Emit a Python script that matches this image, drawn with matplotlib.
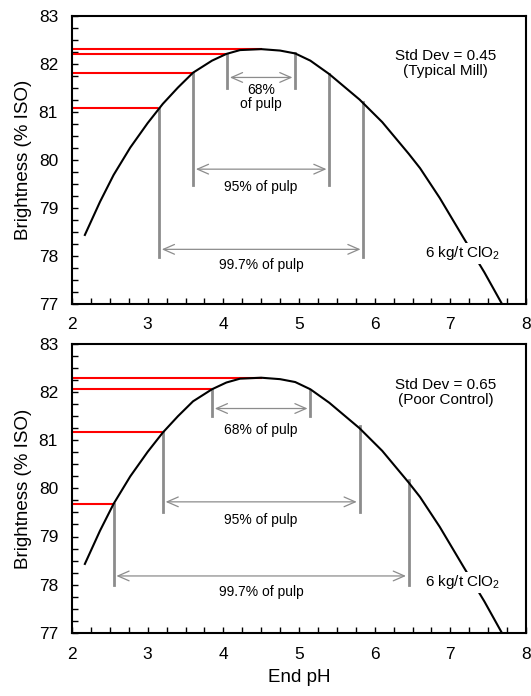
import matplotlib
matplotlib.use("Agg")
import matplotlib.pyplot as plt
from matplotlib.ticker import MultipleLocator

plt.rcParams['font.family'] = ['Liberation Sans', 'DejaVu Sans']
plt.rcParams['mathtext.fontset'] = 'custom'
plt.rcParams['mathtext.rm'] = 'Liberation Sans'
plt.rcParams['mathtext.default'] = 'regular'

# brightness response curve (6 kg/t ClO2)
end_ph = [2.17, 2.37, 2.55, 2.77, 3.0, 3.16, 3.2, 3.4, 3.6, 3.85, 4.04, 4.22, 4.5,
          4.75, 4.95, 5.15, 5.4, 5.8, 6.1, 6.45, 6.6, 6.86, 7.17, 7.45, 7.68]
brightness = [78.43, 79.12, 79.68, 80.25, 80.76, 81.08, 81.16, 81.5, 81.81, 82.06, 82.2, 82.28, 82.3,
              82.27, 82.21, 82.06, 81.78, 81.25, 80.78, 80.12, 79.82, 79.2, 78.38, 77.65, 77.0]

peak_ph = 4.5
peak_br = 82.3
pct_labels = ['68%', '95%', '99.7%']

# typical mill, std dev 0.45
top_left_ph = [4.05, 3.6, 3.15]
top_right_ph = [4.95, 5.4, 5.85]
top_left_br = [82.2, 81.81, 81.08]
top_right_br = [82.21, 81.78, 81.2]
top_line_low = [81.48, 79.48, 77.98]
top_arrow_y = [81.71, 79.8, 78.13]
top_label_y = [81.3, 79.43, 77.8]

# poor control, std dev 0.65
bot_left_ph = [3.85, 3.2, 2.55]
bot_right_ph = [5.15, 5.8, 6.45]
bot_left_br = [82.06, 81.18, 79.68]
bot_right_br = [82.04, 81.3, 80.17]
bot_line_low = [81.5, 79.5, 78.0]
bot_arrow_y = [81.66, 79.72, 78.18]
bot_label_y = [81.21, 79.35, 77.85]


def draw_panel(ax, left_ph, right_ph, left_br, right_br, line_low, arrow_y, label_y,
               stdev_text, first_label_two_lines):
    gray = '#8c8c8c'
    ax.plot(end_ph, brightness, color='black', lw=1.5, zorder=3)

    # red levels from the y axis to the curve
    ax.plot([2, peak_ph], [peak_br, peak_br], color='#ff0000', lw=1.5, zorder=2)
    for x, y in zip(left_ph, left_br):
        ax.plot([2, x], [y, y], color='#ff0000', lw=1.5, zorder=2)

    # gray verticals and arrows
    for i in range(3):
        ax.plot([left_ph[i], left_ph[i]], [left_br[i], line_low[i]], color=gray, lw=2, zorder=2)
        ax.plot([right_ph[i], right_ph[i]], [right_br[i], line_low[i]], color=gray, lw=2, zorder=2)
        ax.annotate('', xy=(left_ph[i], arrow_y[i]), xytext=(right_ph[i], arrow_y[i]),
                    arrowprops=dict(arrowstyle='<->,head_length=0.8,head_width=0.35',
                                    color=gray, lw=0.9, shrinkA=2, shrinkB=2,
                                    mutation_scale=10))
        mid = (left_ph[i] + right_ph[i]) / 2
        if i == 0 and first_label_two_lines:
            txt = pct_labels[i] + '\nof pulp'
            ax.text(mid, label_y[i], txt, ha='center', va='center', fontsize=10,
                    linespacing=1.0)
        else:
            ax.text(mid, label_y[i], pct_labels[i] + ' of pulp', ha='center', va='center',
                    fontsize=10)

    ax.text(6.94, 82.0, stdev_text, ha='center', va='center', fontsize=11, linespacing=1.1)
    ax.text(7.16, 78.05, '6 kg/t ClO$_2$', ha='center', va='center', fontsize=11, zorder=4,
            bbox=dict(facecolor='white', edgecolor='none', pad=1))

    ax.set_xlim(2, 8)
    ax.set_ylim(77, 83)
    ax.xaxis.set_major_locator(MultipleLocator(1))
    ax.xaxis.set_minor_locator(MultipleLocator(0.25))
    ax.yaxis.set_major_locator(MultipleLocator(1))
    ax.yaxis.set_minor_locator(MultipleLocator(0.25))
    ax.tick_params(which='both', direction='in', length=4, width=1, top=False, right=False,
                   labelsize=12.5)
    ax.tick_params(axis='x', pad=10)
    ax.tick_params(axis='y', pad=10)
    for s in ax.spines.values():
        s.set_linewidth(1.5)
    ax.set_ylabel('Brightness (% ISO)', fontsize=13.5, labelpad=5)


fig = plt.figure(figsize=(5.31, 6.96), dpi=100)
ax1 = fig.add_axes([0.1356, 0.5638, 0.855, 0.4139])
ax2 = fig.add_axes([0.1356, 0.0909, 0.855, 0.4148])

draw_panel(ax1, top_left_ph, top_right_ph, top_left_br, top_right_br, top_line_low,
           top_arrow_y, top_label_y, 'Std Dev = 0.45\n(Typical Mill)', True)
draw_panel(ax2, bot_left_ph, bot_right_ph, bot_left_br, bot_right_br, bot_line_low,
           bot_arrow_y, bot_label_y, 'Std Dev = 0.65\n(Poor Control)', False)
ax2.set_xlabel('End pH', fontsize=13.5, labelpad=5)

fig.savefig('out.png', dpi=100)
